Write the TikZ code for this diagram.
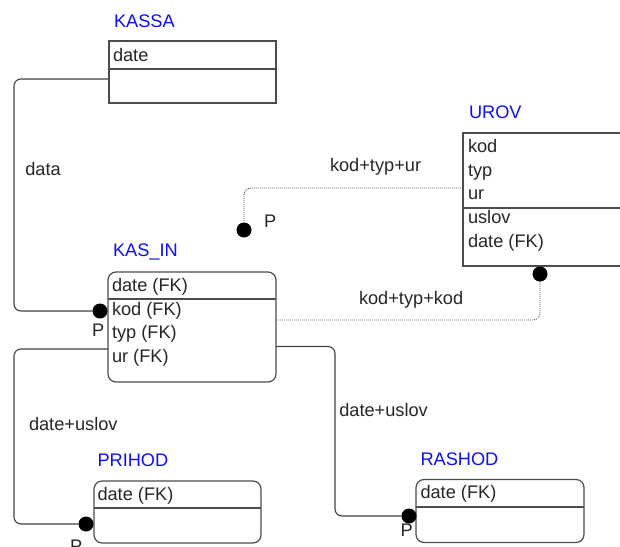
\documentclass[tikz,border=0pt]{standalone}
\usepackage{fontspec}
\setmainfont{Liberation Sans}
\begin{document}
\begin{tikzpicture}[x=1pt,y=-1pt,
  every node/.style={font=\fontsize{18.2}{21}\selectfont, inner sep=0pt, outer sep=0pt},
  ttl/.style={text=blue!95!white, anchor=base west},
  txt/.style={text=black!85, anchor=base west},
  ent/.style={draw=black!70, line width=1.2pt, anchor=north west, minimum width=#1, inner sep=0pt},
  rent/.style={ent=#1, rounded corners=8pt},
  divl/.style={draw=black!70, line width=1.2pt},
  conn/.style={draw=black!75, line width=1.1pt, rounded corners=7pt},
  dconn/.style={draw=black!65, line width=0.8pt, dash pattern=on 1pt off 1pt, rounded corners=7pt},
  dotn/.style={circle, fill=black, minimum size=15pt, inner sep=0pt},
]
\useasboundingbox (0,0) rectangle (620,546);

% KASSA
\node[ttl] (tkassa) at (114,27) {KASSA};
\node[ent=167pt, minimum height=62pt] (kassa) at (109,41) {};
\draw[divl] (kassa.west |- 0,69) -- (kassa.east |- 0,69);
\node[txt] (kassa1) at (113,61) {date};

% UROV
\node[ttl] (turov) at (469,118) {UROV};
\node[ent=170pt, minimum height=133pt] (urov) at (463,133) {};
\draw[divl] (urov.west |- 0,208) -- (urov.east |- 0,208);
\node[txt] (urov1) at (468,152) {kod};
\node[txt] (urov2) at (468,176) {typ};
\node[txt] (urov3) at (468,199.5) {ur};
\node[txt] (urov4) at (468,223) {uslov};
\node[txt] (urov5) at (468,247) {date (FK)};

% KAS_IN
\node[ttl] (tkasin) at (113,256.5) {KAS\_IN};
\node[rent=168pt, minimum height=110pt] (kasin) at (108,272) {};
\draw[divl] (kasin.west |- 0,299) -- (kasin.east |- 0,299);
\node[txt] (kasin1) at (112,291) {date (FK)};
\node[txt] (kasin2) at (112,315) {kod (FK)};
\node[txt] (kasin3) at (112,338.5) {typ (FK)};
\node[txt] (kasin4) at (112,362) {ur (FK)};

% PRIHOD
\node[ttl] (tprihod) at (97.5,466.5) {PRIHOD};
\node[rent=167pt, minimum height=62pt] (prihod) at (94,481) {};
\draw[divl] (prihod.west |- 0,508) -- (prihod.east |- 0,508);
\node[txt] (prihod1) at (97.5,500) {date (FK)};

% RASHOD
\node[ttl] (trashod) at (420.5,465) {RASHOD};
\node[rent=168pt, minimum height=63pt] (rashod) at (416,479.5) {};
\draw[divl] (rashod.west |- 0,507) -- (rashod.east |- 0,507);
\node[txt] (rashod1) at (420.5,498.5) {date (FK)};

% dots
\node[dotn] (dkasin) at (100,311) {};
\node[dotn] (dp) at (244,230) {};
\node[dotn] (durov) at (540,274) {};
\node[dotn] (dprihod) at (86,524) {};
\node[dotn] (drashod) at (409,516) {};

% connectors
\coordinate (a1) at (14,79);
\coordinate (a2) at (14,311);
\draw[conn] (kassa.west |- 0,79) -- (a1) -- (a2) -- (dkasin);

\coordinate (b1) at (14,349);
\coordinate (b2) at (14,524);
\draw[conn] (kasin.west |- 0,349) -- (b1) -- (b2) -- (dprihod);

\coordinate (c1) at (335,346.5);
\coordinate (c2) at (335,516);
\draw[conn] (kasin.east |- 0,346.5) -- (c1) -- (c2) -- (drashod);

\coordinate (e1) at (540,320);
\draw[dconn] (kasin.east |- 0,320) -- (e1) -- (durov);

\coordinate (f1) at (244,188);
\draw[dconn] (urov.west |- 0,188) -- (f1) -- (dp);

% labels
\node[txt] (ldata) at (25.3,175.7) {data};
\node[txt] (lkodur) at (330,171) {kod+typ+ur};
\node[txt] (lkodkod) at (359,304.3) {kod+typ+kod};
\node[txt] (lds1) at (29,430) {date+uslov};
\node[txt] (lds2) at (339.3,416.7) {date+uslov};

\node[txt] (p1) at (92,336) {P};
\node[txt] (p2) at (264,227) {P};
\node[txt] (p3) at (400.7,536.7) {P};
\node[txt] (p4) at (70,552) {P};
\end{tikzpicture}
\end{document}
